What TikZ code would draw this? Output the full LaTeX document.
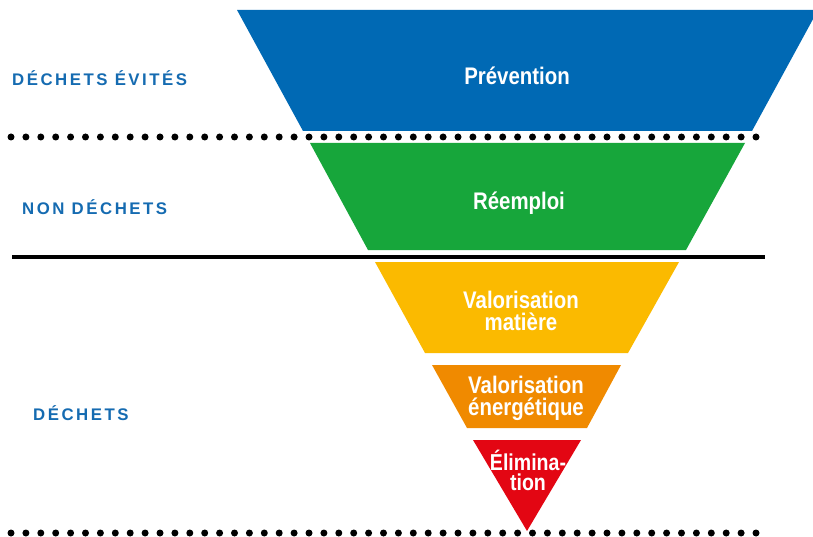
\documentclass[tikz,border=0pt]{standalone}
\usepackage{fontspec}
\setmainfont{Liberation Sans}
\newfontfamily\condfont[FakeStretch=0.85]{Liberation Sans}
\newfontfamily\lblfont[LetterSpace=15]{Liberation Sans}
\definecolor{cblue}{HTML}{0069B4}
\definecolor{cgreen}{HTML}{17A63B}
\definecolor{cyellow}{HTML}{FBBA00}
\definecolor{corange}{HTML}{F08A00}
\definecolor{cred}{HTML}{E30613}
\definecolor{clabel}{HTML}{156BB1}
\tikzset{
  bandtext/.style={text=white, inner sep=0pt, align=center, font=\condfont\bfseries\fontsize{24}{22}\selectfont},
  sidelabel/.style={text=clabel, inner sep=0pt, anchor=west, font=\lblfont\bfseries\fontsize{16.8}{17}\selectfont},
  dotline/.style={line width=7pt, line cap=round, dash pattern=on 0pt off 14.9pt},
  solidline/.style={line width=3.6pt}
}
\begin{document}
\begin{tikzpicture}[x=1pt,y=-1pt]
\useasboundingbox (0,0) rectangle (813,537);
\clip (0,0) rectangle (813,537);
% bands
\fill[cblue] (237,10) -- (818,10) -- (752,131) -- (303,131) -- cycle;
\fill[cgreen] (310,143) -- (745,143) -- (686,250) -- (368,250) -- cycle;
\fill[cyellow] (375,262) -- (679,262) -- (628,353) -- (425,353) -- cycle;
\fill[corange] (432,365) -- (621,365) -- (587,428) -- (467,428) -- cycle;
\fill[cred] (473,440) -- (581,440) -- (527,531) -- cycle;
% separators
\coordinate (d1a) at (11,137);
\coordinate (d1b) at (756,137);
\coordinate (sla) at (12,257);
\coordinate (slb) at (765,257);
\coordinate (d2a) at (11,533);
\coordinate (d2b) at (756,533);
\draw[dotline] (d1a) -- (d1b);
\draw[solidline] (sla) -- (slb);
\draw[dotline] (d2a) -- (d2b);
% band texts
\node[bandtext, anchor=base] (prev) at (517,85) {Prévention};
\node[bandtext, anchor=base] (reem) at (519,210) {Réemploi};
\node[bandtext] (valm) at (521,311) {Valorisation\\matière};
\node[bandtext] (vale) at (526,398) {Valorisation\\énergétique};
\node[bandtext, font=\condfont\bfseries\fontsize{23}{20}\selectfont] (elim) at (528,470) {Élimina-\\tion};
% side labels
\node[sidelabel] (lab1) at (12,78) {DÉCHETS ÉVITÉS};
\node[sidelabel] (lab2) at (22,207) {NON DÉCHETS};
\node[sidelabel] (lab3) at (33,413) {DÉCHETS};
\end{tikzpicture}
\end{document}
